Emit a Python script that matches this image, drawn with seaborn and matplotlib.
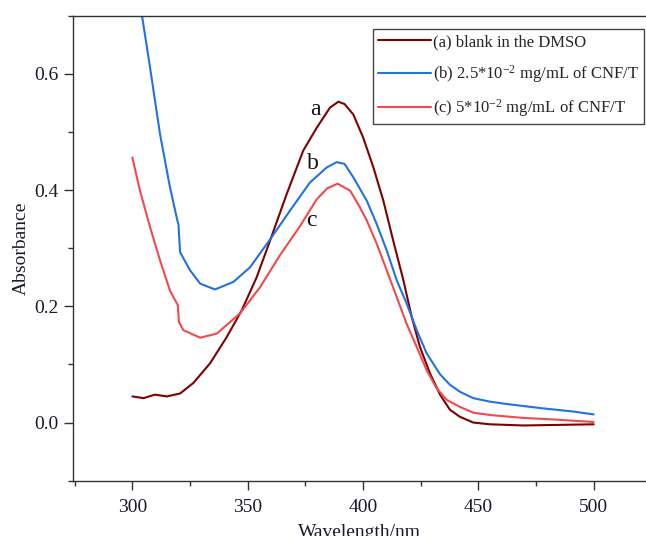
import matplotlib
matplotlib.use("Agg")
import matplotlib.pyplot as plt
from matplotlib.ticker import MultipleLocator
import seaborn as sns

# (a) blank in DMSO
wl_a = [300, 304.8, 309.8, 314.9, 320.7, 326.4, 333.7, 340.9, 347.4, 353.9, 359.7, 366.9,
        374.1, 379.9, 385.7, 389.3, 392, 395.8, 400.1, 404.5, 408.8, 413.1, 417.5, 421.1,
        424.7, 429, 433.4, 437.7, 442, 447.8, 455, 469.5, 485, 500]
abs_a = [0.045, 0.042, 0.048, 0.045, 0.050, 0.068, 0.102, 0.147, 0.193, 0.250, 0.313, 0.393,
         0.468, 0.507, 0.542, 0.552, 0.548, 0.530, 0.490, 0.439, 0.382, 0.313, 0.245, 0.182,
         0.130, 0.085, 0.048, 0.022, 0.010, 0.000, -0.003, -0.005, -0.004, -0.003]

# (b) 2.5e-2 mg/mL CNF/T
wl_b = [300, 304.3, 307.7, 312, 316.3, 319.2, 320, 320.7, 325, 329.4, 335.8, 343.8, 351,
        360.4, 368.4, 377, 384.3, 388.6, 392, 395.8, 401.6, 405.9, 410.3, 414.6, 418.9,
        423.3, 427.6, 433.4, 437.7, 442, 447.8, 455, 462.2, 476.7, 491.1, 500]
abs_b = [0.80, 0.697, 0.610, 0.496, 0.405, 0.353, 0.340, 0.293, 0.262, 0.239, 0.229, 0.242, 0.267,
         0.319, 0.365, 0.413, 0.439, 0.448, 0.445, 0.422, 0.382, 0.342, 0.296, 0.245, 0.205,
         0.159, 0.119, 0.083, 0.065, 0.053, 0.042, 0.036, 0.032, 0.025, 0.019, 0.014]

# (c) 5e-2 mg/mL CNF/T
wl_c = [300, 303.3, 307.7, 312, 316.3, 319.7, 320.2, 322.1, 329.4, 336.6, 346.7, 355.4, 364,
        372.7, 379.9, 384.5, 389, 394.4, 398, 401.6, 405.9, 410.3, 414.6, 418.9, 423.3,
        427.6, 431.9, 436.3, 442, 447.8, 455, 469.5, 484, 500]
abs_c = [0.456, 0.399, 0.336, 0.279, 0.227, 0.202, 0.173, 0.159, 0.146, 0.153, 0.188, 0.233, 0.288,
         0.338, 0.384, 0.403, 0.411, 0.399, 0.375, 0.348, 0.308, 0.262, 0.216, 0.170, 0.130,
         0.090, 0.059, 0.039, 0.027, 0.017, 0.013, 0.008, 0.005, 0.001]

labels = ["(a) blank in the DMSO",
          r"(b) 2.5*10$^{-2}$ mg/mL of CNF/T",
          r"(c) 5*10$^{-2}$ mg/mL of CNF/T"]
colors = ["#800000", "#2272E0", "#F24A4A"]

sns.set_theme(style="ticks")
plt.rcParams["font.family"] = ["Liberation Serif", "DejaVu Serif"]
plt.rcParams["mathtext.fontset"] = "custom"
plt.rcParams["mathtext.rm"] = "Liberation Serif"
plt.rcParams["mathtext.it"] = "Liberation Serif:italic"

fig = plt.figure(figsize=(6.46, 5.36), dpi=100)
ax = fig.add_axes([0.1135, 0.1032, 0.8865, 0.8675])

for wl, ab, lab, col in zip([wl_a, wl_b, wl_c], [abs_a, abs_b, abs_c], labels, colors):
    sns.lineplot(x=wl, y=ab, ax=ax, color=col, label=lab, linewidth=1.5, estimator=None)

# curve letters
ax.text(379.2, 0.539, "a", fontsize=17, ha="center", va="center", color="#111111")
ax.text(378.4, 0.445, "b", fontsize=17, ha="center", va="center", color="#111111")
ax.text(377.7, 0.347, "c", fontsize=17, ha="center", va="center", color="#111111")

ax.set_xlim(274.4, 522.7)
ax.set_ylim(-0.1, 0.7)
ax.xaxis.set_major_locator(MultipleLocator(50))
ax.xaxis.set_minor_locator(MultipleLocator(25))
ax.yaxis.set_major_locator(MultipleLocator(0.2))
ax.yaxis.set_minor_locator(MultipleLocator(0.1))
ax.yaxis.set_major_formatter(matplotlib.ticker.FormatStrFormatter("%.1f"))

ax.tick_params(which="major", length=6.5, width=1, colors="#333333", labelcolor="#1a1a2a",
               labelsize=14)
ax.tick_params(axis="x", which="major", pad=6.8)
ax.tick_params(axis="y", which="major", pad=4)
ax.tick_params(which="minor", length=3.5, width=1, colors="#333333")

for side in ["left", "bottom", "top"]:
    ax.spines[side].set_color("#333333")
    ax.spines[side].set_linewidth(1)
ax.spines["right"].set_visible(False)

ax.set_xlabel("Wavelength/nm", fontsize=14, labelpad=6, color="#1a1a2a")
ax.set_ylabel("Absorbance", fontsize=14, labelpad=3, color="#1a1a2a")

ax.legend(loc="upper left", bbox_to_anchor=(0.577, 0.9453), bbox_transform=fig.transFigure,
          fontsize=12, frameon=True, fancybox=False, edgecolor="#444444", framealpha=1,
          handlelength=3.2, handletextpad=0.1, borderpad=0.3, labelspacing=0.75,
          borderaxespad=0)
ax.get_legend().get_frame().set_linewidth(1)

fig.savefig("out.png", dpi=100)
plt.close(fig)
